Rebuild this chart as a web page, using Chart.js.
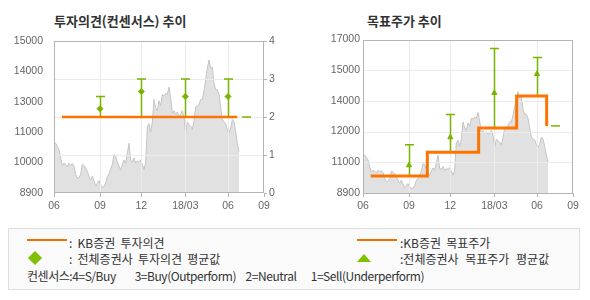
<!DOCTYPE html>
<html>
<head>
<meta charset="utf-8">
<script src="https://cdn.jsdelivr.net/npm/chart.js@4.4.1/dist/chart.umd.min.js"></script>
<style>
    body { margin: 0; background: #fff; width: 590px; height: 300px; position: relative; overflow: hidden; font-family: 'Noto Sans CJK KR', sans-serif; }
    .title { position: absolute; top: 12px; font-size: 13px; font-weight: bold; color: #333; line-height: 17px; white-space: nowrap; }
    canvas { position: absolute; top: 0; }
    .legend { position: absolute; left: 8px; top: 228px; width: 570px; height: 60px; border: 1px solid #dedede; background: #fafafa; }
    .legend span { position: absolute; font-size: 12px; color: #333; line-height: 14px; white-space: pre; word-spacing: 2.5px; }
    .line { position: absolute; height: 2px; background: #ee7100; }
    .diamond { position: absolute; width: 10px; height: 10px; background: #80c000; transform: rotate(45deg); }
    .tri { position: absolute; width: 0; height: 0; border-left: 7px solid transparent; border-right: 7px solid transparent; border-bottom: 8px solid #80c000; }
</style>
</head>
<body>
<div class="title" style="left:54px">투자의견(컨센서스) 추이</div>
<div class="title" style="left:367px">목표주가 추이</div>
<canvas id="opinionChart" width="295" height="215" style="left:0"></canvas>
<canvas id="targetChart" width="295" height="215" style="left:295px"></canvas>
<div class="legend">
    <div class="line" style="left:18px; top:10px; width:40px"></div>
    <span style="left:60px; top:7px">: KB증권 투자의견</span>
    <div class="line" style="left:348px; top:10px; width:40px"></div>
    <span style="left:391px; top:7px">:KB증권 목표주가</span>
    <div class="diamond" style="left:21px; top:24px"></div>
    <span style="left:60px; top:23px">: 전체증권사 투자의견 평균값</span>
    <div class="tri" style="left:348px; top:25px"></div>
    <span style="left:391px; top:23px; word-spacing: 4px">:전체증권사 목표주가 평균값</span>
    <span style="left:18px; top:40px; letter-spacing: -0.45px">컨센서스:4=S/Buy    3=Buy(Outperform)  2=Neutral   1=Sell(Underperform)</span>
</div>
<script>
// daily close (sampled), Jun 2017 .. Jul 2018
const priceData = [
    10950, 10900, 10780, 10650, 10300, 10000, 10100, 10050, 9950, 10100,
    10000, 10080, 9980, 9650, 9500, 9520, 9650, 10050, 10000, 9900,
    9760, 9560, 9420, 9580, 9380, 9180, 9280, 9400, 9230, 9140,
    9150, 9300, 9560, 9680, 9850, 10050, 10450, 10400, 10150, 9980,
    9820, 10050, 10220, 10100, 10500, 10900, 10200, 10150, 10300, 10100,
    10180, 10150, 10230, 10050, 9850, 10100, 11550, 11690, 11350, 11750,
    12650, 12330, 12200, 12600, 12400, 12850, 12800, 12900, 12850, 13150,
    12700, 12100, 12200, 12050, 12150, 12000, 12050, 12200, 11950, 11300,
    11750, 11650, 11580, 11450, 11800, 12350, 12400, 12450, 12650, 12650,
    13000, 13450, 13900, 14240, 13900, 13950, 13300, 13050, 13050, 12850,
    12350, 11850, 11750, 11700, 11450, 11300, 11500, 11850, 11750, 11350,
    10900, 10550
];
const xTickPos = [0, 27.6, 52.4, 78.8, 104.4, 126];
const xTickLabels = ['06', '09', '12', '18/03', '06', '09'];

const leftPriceTicks = [8900, 10120, 11340, 12560, 13780, 15000];
const leftPriceLabels = ['8900', '10000', '11000', '13000', '14000', '15000'];
const rightPriceTicks = [8900, 10520, 12140, 13760, 15380, 17000];
const rightPriceLabels = ['8900', '11000', '12000', '14000', '15000', '17000'];
const opinionTicks = [0, 1, 2, 3, 4];

// consensus (all brokers)
const consensusX = [27.6, 52.4, 78.8, 104.4, 115.3];
const opinionMin = [2, 2, 2, 2, 2];
const opinionAvg = [2.22, 2.67, 2.54, 2.54, null];
const opinionMax = [2.54, 3, 3, 3, 2];
const targetMin = [9800, 11050, 12330, 14020, 12440];
const targetAvg = [10360, 11840, 14180, 15180, null];
const targetMax = [11450, 13040, 16520, 16050, 12440];

// KB
const kbOpinionX = [4.8, 110];
const kbOpinion = [2, 2];
const kbTargetX = [4.6, 38.6, 69.4, 92.2, 110.2];
const kbTarget = [9800, 11050, 12330, 14020, 12440];

const ORANGE = '#ff7300';
const GREEN = '#78b400';
const GRID = '#ebebeb';
const BORDER = '#b4b4b4';

Chart.defaults.font.family = "'Liberation Sans', Arial, sans-serif";
Chart.defaults.font.size = 10.5;
Chart.defaults.color = '#666';

// grid + error bars drawn right after the price area, box border at the end
const overlay = {
    id: 'overlay',
    afterDatasetDraw(chart, args, opts) {
        if (args.index !== 0) return;
        const ctx = chart.ctx, area = chart.chartArea;
        const x = chart.scales.x, gy = chart.scales[opts.gridAxis], by = chart.scales[opts.barAxis];
        ctx.save();
        ctx.strokeStyle = GRID;
        ctx.lineWidth = 1;
        ctx.beginPath();
        xTickPos.slice(1, -1).forEach(v => {
            const px = Math.round(x.getPixelForValue(v)) + 0.5;
            ctx.moveTo(px, area.top);
            ctx.lineTo(px, area.bottom);
        });
        gy.ticks.slice(1, -1).forEach(t => {
            const py = Math.round(gy.getPixelForValue(t.value)) + 0.5;
            ctx.moveTo(area.left, py);
            ctx.lineTo(area.right, py);
        });
        ctx.stroke();

        ctx.strokeStyle = GREEN;
        ctx.lineWidth = 1.5;
        opts.xs.forEach((v, i) => {
            const px = Math.round(x.getPixelForValue(v)) + 0.5;
            const top = by.getPixelForValue(opts.max[i]);
            const bot = by.getPixelForValue(opts.min[i]);
            ctx.beginPath();
            ctx.moveTo(px, bot);
            ctx.lineTo(px, top);
            ctx.moveTo(px - 4.5, top);
            ctx.lineTo(px + 4.5, top);
            ctx.stroke();
        });
        ctx.restore();
    },
    afterDraw(chart) {
        const ctx = chart.ctx, a = chart.chartArea;
        ctx.save();
        ctx.strokeStyle = BORDER;
        ctx.lineWidth = 1;
        ctx.strokeRect(Math.round(a.left) + 0.5, Math.round(a.top) + 0.5,
            Math.round(a.right - a.left) - 1, Math.round(a.bottom - a.top) - 1);
        ctx.restore();
    }
};

function xScale() {
    return {
        type: 'linear',
        min: 0,
        max: 126,
        afterBuildTicks: s => { s.ticks = xTickPos.map(v => ({ value: v })); },
        afterFit: s => { s.height = 22; },
        ticks: { callback: (v, i) => xTickLabels[i], autoSkip: false, maxRotation: 0, padding: 3 },
        grid: { drawOnChartArea: false, tickLength: 4, tickColor: BORDER },
        border: { display: false }
    };
}

function priceSeries() {
    return {
        data: priceData.map((v, i) => ({ x: i, y: v })),
        borderColor: '#c4c4c4',
        borderWidth: 1,
        backgroundColor: '#e1e1e1',
        fill: 'start',
        pointRadius: 0,
        order: 3
    };
}

const baseOptions = {
    responsive: false,
    animation: false,
    devicePixelRatio: 1,
    plugins: { legend: { display: false }, tooltip: { enabled: false } }
};

new Chart(document.getElementById('opinionChart'), {
    type: 'line',
    plugins: [overlay],
    data: {
        datasets: [
            Object.assign(priceSeries(), { yAxisID: 'yPrice' }),
            {
                data: kbOpinionX.map((x, i) => ({ x, y: kbOpinion[i] })),
                yAxisID: 'yOp',
                borderColor: ORANGE,
                borderWidth: 2.5,
                pointRadius: 0,
                order: 1
            },
            {
                type: 'scatter',
                data: consensusX.map((x, i) => ({ x, y: opinionAvg[i] })),
                yAxisID: 'yOp',
                pointStyle: 'rectRot',
                pointRadius: 3,
                backgroundColor: GREEN,
                borderColor: GREEN,
                order: 0
            }
        ]
    },
    options: Object.assign({}, baseOptions, {
        layout: { padding: { top: 41 } },
        plugins: Object.assign({}, baseOptions.plugins, {
            overlay: { gridAxis: 'yOp', barAxis: 'yOp', xs: consensusX, min: opinionMin, max: opinionMax }
        }),
        scales: {
            x: xScale(),
            yPrice: {
                position: 'left',
                min: 8900,
                max: 15000,
                afterBuildTicks: s => { s.ticks = leftPriceTicks.map(v => ({ value: v })); },
                afterFit: s => { s.width = 54; },
                ticks: { callback: (v, i) => leftPriceLabels[i], padding: 3 },
                grid: { display: false },
                border: { display: false }
            },
            yOp: {
                position: 'right',
                min: 0,
                max: 4,
                afterBuildTicks: s => { s.ticks = opinionTicks.map(v => ({ value: v })); },
                afterFit: s => { s.width = 31; },
                ticks: { padding: 2 },
                grid: { drawOnChartArea: false, tickLength: 3, tickColor: BORDER },
                border: { display: false }
            }
        }
    })
});

new Chart(document.getElementById('targetChart'), {
    type: 'line',
    plugins: [overlay],
    data: {
        datasets: [
            Object.assign(priceSeries(), { yAxisID: 'y' }),
            {
                data: kbTargetX.map((x, i) => ({ x, y: kbTarget[i] })),
                yAxisID: 'y',
                stepped: 'before',
                borderColor: ORANGE,
                borderWidth: 3,
                pointRadius: 0,
                order: 1
            },
            {
                type: 'scatter',
                data: consensusX.map((x, i) => ({ x, y: targetAvg[i] })),
                yAxisID: 'y',
                pointStyle: 'triangle',
                pointRadius: 3,
                backgroundColor: GREEN,
                borderColor: GREEN,
                order: 0
            }
        ]
    },
    options: Object.assign({}, baseOptions, {
        layout: { padding: { top: 39.5, right: 17 } },
        plugins: Object.assign({}, baseOptions.plugins, {
            overlay: { gridAxis: 'y', barAxis: 'y', xs: consensusX, min: targetMin, max: targetMax }
        }),
        scales: {
            x: xScale(),
            y: {
                position: 'left',
                min: 8900,
                max: 17000,
                afterBuildTicks: s => { s.ticks = rightPriceTicks.map(v => ({ value: v })); },
                afterFit: s => { s.width = 68; },
                ticks: { callback: (v, i) => rightPriceLabels[i], padding: 3 },
                grid: { drawOnChartArea: false, drawTicks: false },
                border: { display: false }
            }
        }
    })
});
</script>
</body>
</html>
